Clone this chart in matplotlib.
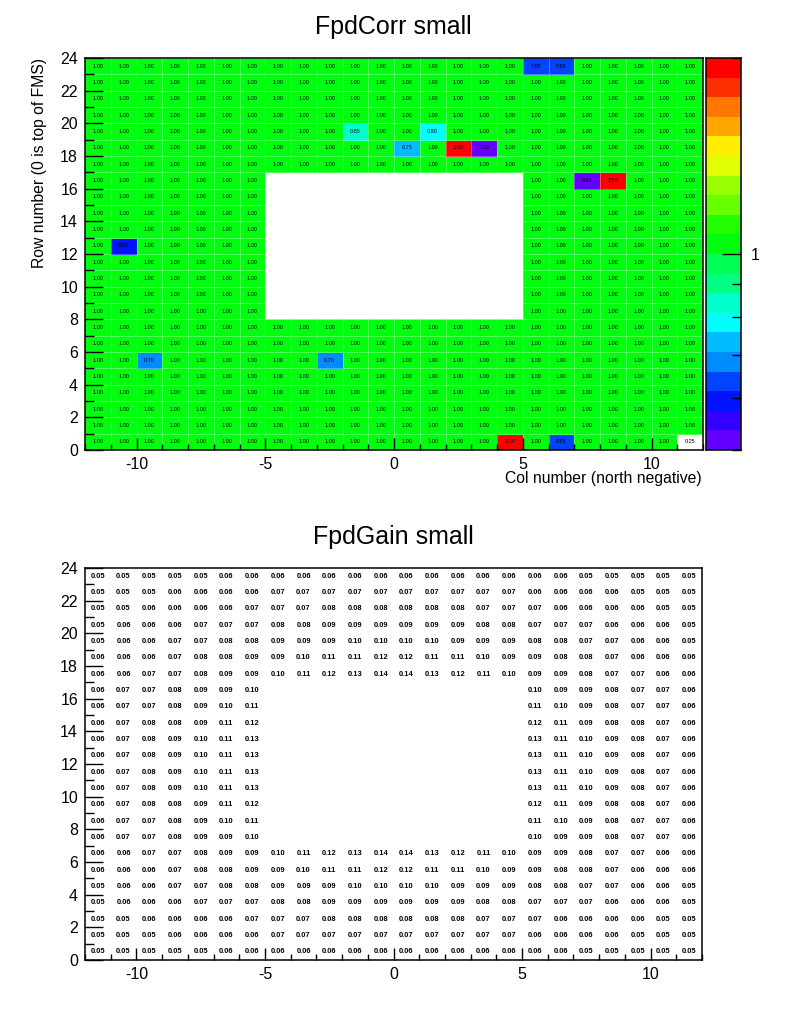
import colorsys
import numpy as np
import matplotlib
matplotlib.use("Agg")
import matplotlib.pyplot as plt
from matplotlib.colors import ListedColormap, BoundaryNorm

plt.rcParams['font.family'] = ['Liberation Sans', 'DejaVu Sans']
plt.rcParams['axes.unicode_minus'] = False

# ---------------- data ----------------
col_edges = list(range(-12, 13))   # 24 columns: -12 .. 11
row_edges = list(range(0, 25))     # 24 rows: 0 .. 23

# FpdCorr small, top row (23) first, '-' = empty cell
corr_rows = [
    "1.00 1.00 1.00 1.00 1.00 1.00 1.00 1.00 1.00 1.00 1.00 1.00 1.00 1.00 1.00 1.00 1.00 0.65 0.65 1.00 1.00 1.00 1.00 1.00",
    "1.00 1.00 1.00 1.00 1.00 1.00 1.00 1.00 1.00 1.00 1.00 1.00 1.00 1.00 1.00 1.00 1.00 1.00 1.00 1.00 1.00 1.00 1.00 1.00",
    "1.00 1.00 1.00 1.00 1.00 1.00 1.00 1.00 1.00 1.00 1.00 1.00 1.00 1.00 1.00 1.00 1.00 1.00 1.00 1.00 1.00 1.00 1.00 1.00",
    "1.00 1.00 1.00 1.00 1.00 1.00 1.00 1.00 1.00 1.00 1.00 1.00 1.00 1.00 1.00 1.00 1.00 1.00 1.00 1.00 1.00 1.00 1.00 1.00",
    "1.00 1.00 1.00 1.00 1.00 1.00 1.00 1.00 1.00 1.00 0.85 1.00 1.00 0.80 1.00 1.00 1.00 1.00 1.00 1.00 1.00 1.00 1.00 1.00",
    "1.00 1.00 1.00 1.00 1.00 1.00 1.00 1.00 1.00 1.00 1.00 1.00 0.75 1.00 2.00 0.50 1.00 1.00 1.00 1.00 1.00 1.00 1.00 1.00",
    "1.00 1.00 1.00 1.00 1.00 1.00 1.00 1.00 1.00 1.00 1.00 1.00 1.00 1.00 1.00 1.00 1.00 1.00 1.00 1.00 1.00 1.00 1.00 1.00",
    "1.00 1.00 1.00 1.00 1.00 1.00 1.00 - - - - - - - - - - 1.00 1.00 0.50 2.50 1.00 1.00 1.00",
    "1.00 1.00 1.00 1.00 1.00 1.00 1.00 - - - - - - - - - - 1.00 1.00 1.00 1.00 1.00 1.00 1.00",
    "1.00 1.00 1.00 1.00 1.00 1.00 1.00 - - - - - - - - - - 1.00 1.00 1.00 1.00 1.00 1.00 1.00",
    "1.00 1.00 1.00 1.00 1.00 1.00 1.00 - - - - - - - - - - 1.00 1.00 1.00 1.00 1.00 1.00 1.00",
    "1.00 0.60 1.00 1.00 1.00 1.00 1.00 - - - - - - - - - - 1.00 1.00 1.00 1.00 1.00 1.00 1.00",
    "1.00 1.00 1.00 1.00 1.00 1.00 1.00 - - - - - - - - - - 1.00 1.00 1.00 1.00 1.00 1.00 1.00",
    "1.00 1.00 1.00 1.00 1.00 1.00 1.00 - - - - - - - - - - 1.00 1.00 1.00 1.00 1.00 1.00 1.00",
    "1.00 1.00 1.00 1.00 1.00 1.00 1.00 - - - - - - - - - - 1.00 1.00 1.00 1.00 1.00 1.00 1.00",
    "1.00 1.00 1.00 1.00 1.00 1.00 1.00 - - - - - - - - - - 1.00 1.00 1.00 1.00 1.00 1.00 1.00",
    "1.00 1.00 1.00 1.00 1.00 1.00 1.00 1.00 1.00 1.00 1.00 1.00 1.00 1.00 1.00 1.00 1.00 1.00 1.00 1.00 1.00 1.00 1.00 1.00",
    "1.00 1.00 1.00 1.00 1.00 1.00 1.00 1.00 1.00 1.00 1.00 1.00 1.00 1.00 1.00 1.00 1.00 1.00 1.00 1.00 1.00 1.00 1.00 1.00",
    "1.00 1.00 0.70 1.00 1.00 1.00 1.00 1.00 1.00 0.70 1.00 1.00 1.00 1.00 1.00 1.00 1.00 1.00 1.00 1.00 1.00 1.00 1.00 1.00",
    "1.00 1.00 1.00 1.00 1.00 1.00 1.00 1.00 1.00 1.00 1.00 1.00 1.00 1.00 1.00 1.00 1.00 1.00 1.00 1.00 1.00 1.00 1.00 1.00",
    "1.00 1.00 1.00 1.00 1.00 1.00 1.00 1.00 1.00 1.00 1.00 1.00 1.00 1.00 1.00 1.00 1.00 1.00 1.00 1.00 1.00 1.00 1.00 1.00",
    "1.00 1.00 1.00 1.00 1.00 1.00 1.00 1.00 1.00 1.00 1.00 1.00 1.00 1.00 1.00 1.00 1.00 1.00 1.00 1.00 1.00 1.00 1.00 1.00",
    "1.00 1.00 1.00 1.00 1.00 1.00 1.00 1.00 1.00 1.00 1.00 1.00 1.00 1.00 1.00 1.00 1.00 1.00 1.00 1.00 1.00 1.00 1.00 1.00",
    "1.00 1.00 1.00 1.00 1.00 1.00 1.00 1.00 1.00 1.00 1.00 1.00 1.00 1.00 1.00 1.00 3.00 1.00 0.65 1.00 1.00 1.00 1.00 0.25",
]

# FpdGain small, top row (23) first, '-' = empty cell
gain_rows = [
    "0.05 0.05 0.05 0.05 0.05 0.06 0.06 0.06 0.06 0.06 0.06 0.06 0.06 0.06 0.06 0.06 0.06 0.06 0.06 0.05 0.05 0.05 0.05 0.05",
    "0.05 0.05 0.05 0.06 0.06 0.06 0.06 0.07 0.07 0.07 0.07 0.07 0.07 0.07 0.07 0.07 0.07 0.06 0.06 0.06 0.06 0.05 0.05 0.05",
    "0.05 0.05 0.06 0.06 0.06 0.06 0.07 0.07 0.07 0.08 0.08 0.08 0.08 0.08 0.08 0.07 0.07 0.07 0.06 0.06 0.06 0.06 0.05 0.05",
    "0.05 0.06 0.06 0.06 0.07 0.07 0.07 0.08 0.08 0.09 0.09 0.09 0.09 0.09 0.09 0.08 0.08 0.07 0.07 0.07 0.06 0.06 0.06 0.05",
    "0.05 0.06 0.06 0.07 0.07 0.08 0.08 0.09 0.09 0.09 0.10 0.10 0.10 0.10 0.09 0.09 0.09 0.08 0.08 0.07 0.07 0.06 0.06 0.05",
    "0.06 0.06 0.06 0.07 0.08 0.08 0.09 0.09 0.10 0.11 0.11 0.12 0.12 0.11 0.11 0.10 0.09 0.09 0.08 0.08 0.07 0.06 0.06 0.06",
    "0.06 0.06 0.07 0.07 0.08 0.09 0.09 0.10 0.11 0.12 0.13 0.14 0.14 0.13 0.12 0.11 0.10 0.09 0.09 0.08 0.07 0.07 0.06 0.06",
    "0.06 0.07 0.07 0.08 0.09 0.09 0.10 - - - - - - - - - - 0.10 0.09 0.09 0.08 0.07 0.07 0.06",
    "0.06 0.07 0.07 0.08 0.09 0.10 0.11 - - - - - - - - - - 0.11 0.10 0.09 0.08 0.07 0.07 0.06",
    "0.06 0.07 0.08 0.08 0.09 0.11 0.12 - - - - - - - - - - 0.12 0.11 0.09 0.08 0.08 0.07 0.06",
    "0.06 0.07 0.08 0.09 0.10 0.11 0.13 - - - - - - - - - - 0.13 0.11 0.10 0.09 0.08 0.07 0.06",
    "0.06 0.07 0.08 0.09 0.10 0.11 0.13 - - - - - - - - - - 0.13 0.11 0.10 0.09 0.08 0.07 0.06",
    "0.06 0.07 0.08 0.09 0.10 0.11 0.13 - - - - - - - - - - 0.13 0.11 0.10 0.09 0.08 0.07 0.06",
    "0.06 0.07 0.08 0.09 0.10 0.11 0.13 - - - - - - - - - - 0.13 0.11 0.10 0.09 0.08 0.07 0.06",
    "0.06 0.07 0.08 0.08 0.09 0.11 0.12 - - - - - - - - - - 0.12 0.11 0.09 0.08 0.08 0.07 0.06",
    "0.06 0.07 0.07 0.08 0.09 0.10 0.11 - - - - - - - - - - 0.11 0.10 0.09 0.08 0.07 0.07 0.06",
    "0.06 0.07 0.07 0.08 0.09 0.09 0.10 - - - - - - - - - - 0.10 0.09 0.09 0.08 0.07 0.07 0.06",
    "0.06 0.06 0.07 0.07 0.08 0.09 0.09 0.10 0.11 0.12 0.13 0.14 0.14 0.13 0.12 0.11 0.10 0.09 0.09 0.08 0.07 0.07 0.06 0.06",
    "0.06 0.06 0.06 0.07 0.08 0.08 0.09 0.09 0.10 0.11 0.11 0.12 0.12 0.11 0.11 0.10 0.09 0.09 0.08 0.08 0.07 0.06 0.06 0.06",
    "0.05 0.06 0.06 0.07 0.07 0.08 0.08 0.09 0.09 0.09 0.10 0.10 0.10 0.10 0.09 0.09 0.09 0.08 0.08 0.07 0.07 0.06 0.06 0.05",
    "0.05 0.06 0.06 0.06 0.07 0.07 0.07 0.08 0.08 0.09 0.09 0.09 0.09 0.09 0.09 0.08 0.08 0.07 0.07 0.07 0.06 0.06 0.06 0.05",
    "0.05 0.05 0.06 0.06 0.06 0.06 0.07 0.07 0.07 0.08 0.08 0.08 0.08 0.08 0.08 0.07 0.07 0.07 0.06 0.06 0.06 0.06 0.05 0.05",
    "0.05 0.05 0.05 0.06 0.06 0.06 0.06 0.07 0.07 0.07 0.07 0.07 0.07 0.07 0.07 0.07 0.07 0.06 0.06 0.06 0.06 0.05 0.05 0.05",
    "0.05 0.05 0.05 0.05 0.05 0.06 0.06 0.06 0.06 0.06 0.06 0.06 0.06 0.06 0.06 0.06 0.06 0.06 0.06 0.05 0.05 0.05 0.05 0.05",
]

zmin, zmax = 0.5, 2.0
colorbar_major = [1.0]
colorbar_minor = [0.5, 0.6, 0.7, 0.8, 0.9, 2.0]


def parse(rows):
    arr = np.array([[np.nan if t == '-' else float(t) for t in r.split()] for r in rows])
    return arr[::-1]  # row 0 first


corr = parse(corr_rows)
gain = parse(gain_rows)

# ROOT default "pretty" palette with 20 contour levels
ncont = 20
pal = []
for k in range(ncont):
    idx = int((k + 0.99) * 50 / ncont)
    if idx >= 49:
        pal.append((1.0, 0.0, 0.0))
    else:
        hue = 280 - (idx + 1) * 5.6
        pal.append(colorsys.hls_to_rgb(hue / 360.0, 0.5, 1.0))
cmap = ListedColormap(pal)
cmap.set_over(pal[-1])
cmap.set_under('white')
bounds = np.round(np.geomspace(zmin, zmax, ncont + 1), 6)
norm = BoundaryNorm(bounds, ncont)

# ---------------- figure ----------------
fig = plt.figure(figsize=(7.87, 10.19), dpi=100)
W, H = 787.0, 1019.0


def ax_rect(l, t, r, b):
    return [l / W, 1 - b / H, (r - l) / W, (b - t) / H]


def style_axes(ax):
    ax.set_xlim(-12, 12)
    ax.set_ylim(0, 24)
    ax.set_xticks([-10, -5, 0, 5, 10])
    ax.set_xticks(col_edges, minor=True)
    ax.set_yticks(list(range(0, 25, 2)))
    ax.set_yticks(row_edges, minor=True)
    ax.tick_params(axis='both', which='both', direction='in', top=False, right=False,
                   labelsize=11.5, width=1.0)
    ax.tick_params(axis='x', which='major', length=8.5, pad=5)
    ax.tick_params(axis='x', which='minor', length=4.2)
    ax.tick_params(axis='y', which='major', length=13, pad=5)
    ax.tick_params(axis='y', which='minor', length=6.5)
    for s in ax.spines.values():
        s.set_linewidth(1.1)


X, Y = np.meshgrid(col_edges, row_edges)

# ---- top: FpdCorr ----
ax1 = fig.add_axes(ax_rect(85, 58, 703, 450))
ax1.pcolormesh(X, Y, np.ma.masked_invalid(corr), cmap=cmap, norm=norm,
               edgecolors=(1, 1, 1, 0.3), linewidth=0.5)
style_axes(ax1)
for i in range(24):
    for j in range(24):
        v = corr[i, j]
        if np.isfinite(v):
            ax1.text(col_edges[j] + 0.5, row_edges[i] + 0.5, f"{v:.2f}", ha='center',
                     va='center', fontsize=4.0, color='black')
fig.text(393 / W, 1 - 27 / H, "FpdCorr small", ha='center', va='center', fontsize=18)
fig.text(702 / W, 1 - 478 / H, "Col number (north negative)", ha='right', va='center',
         fontsize=11.3)
fig.text(40 / W, 1 - 58 / H, "Row number (0 is top of FMS)", ha='center', va='top',
         rotation=90, fontsize=11.3)

# colorbar
cax = fig.add_axes(ax_rect(706, 58, 741, 450))
centers = np.sqrt(bounds[:-1] * bounds[1:])
cax.pcolormesh([0, 1], bounds, centers.reshape(-1, 1), cmap=cmap, norm=norm)
cax.set_yscale('log')
cax.set_ylim(zmin, zmax)
cax.set_xlim(0, 1)
cax.set_xticks([])
cax.yaxis.tick_right()
cax.set_yticks(colorbar_major)
cax.set_yticklabels(["1"])
cax.set_yticks(colorbar_minor, minor=True)
cax.yaxis.set_minor_formatter(matplotlib.ticker.NullFormatter())
cax.tick_params(axis='y', which='both', direction='in', labelsize=11.5, width=1.0)
cax.tick_params(axis='y', which='major', length=13.5, pad=7)
cax.tick_params(axis='y', which='minor', length=6.5)
for s in cax.spines.values():
    s.set_linewidth(1.1)

# ---- bottom: FpdGain ----
ax2 = fig.add_axes(ax_rect(85, 568, 702, 960))
style_axes(ax2)
for i in range(24):
    for j in range(24):
        v = gain[i, j]
        if np.isfinite(v):
            ax2.text(col_edges[j] + 0.5, row_edges[i] + 0.5, f"{v:.2f}", ha='center',
                     va='center', fontsize=5.4, fontweight='bold', color='black')
fig.text(393 / W, 1 - 537 / H, "FpdGain small", ha='center', va='center', fontsize=18)

fig.savefig("out.png", dpi=100)
